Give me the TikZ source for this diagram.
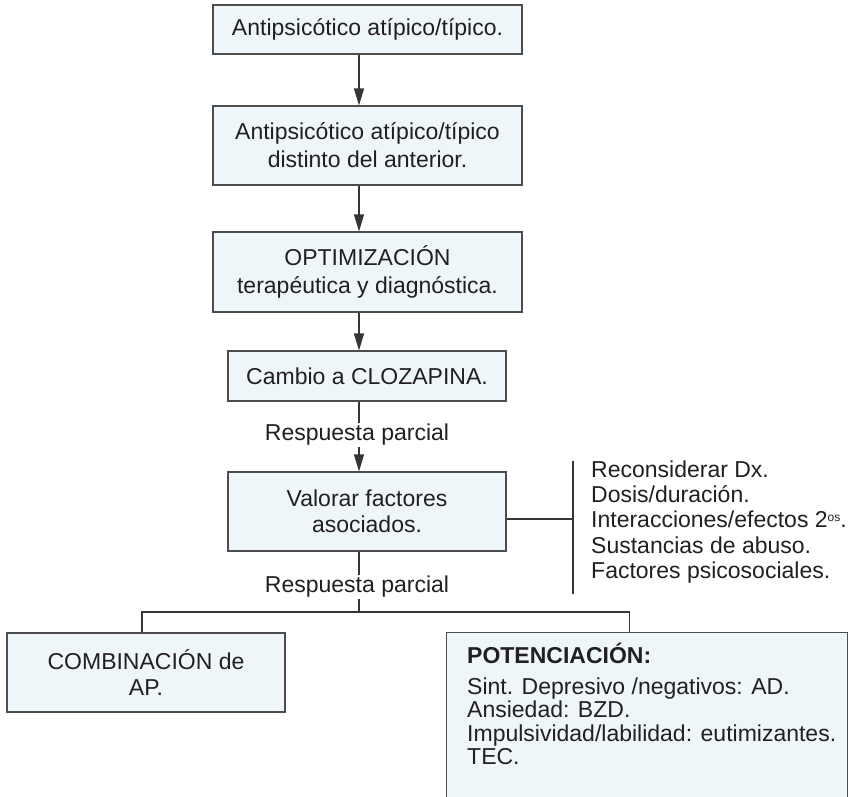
\documentclass[tikz,border=0pt]{standalone}
\usepackage{fontspec}
\setmainfont{Liberation Sans}
\usepackage{tikz}
\usetikzlibrary{arrows.meta, positioning, calc}
\definecolor{boxfill}{HTML}{EEF6FA}
\definecolor{boxline}{HTML}{4D4D4D}
\definecolor{inkgray}{HTML}{231F20}

\begin{document}
\begin{tikzpicture}[x=1pt, y=-1pt,
  stage/.style={draw=boxline, fill=boxfill, line width=1.1pt, inner sep=0pt,
    align=center, text=inkgray, font=\fontsize{23}{28}\selectfont},
  lbl/.style={text=inkgray, inner sep=1pt, font=\fontsize{23}{25.3}\selectfont},
  flow/.style={draw=inkgray!90, line width=1.1pt},
  arr/.style={flow, -{Triangle[length=17pt, width=10pt]}}
]
  \useasboundingbox (0,0) rectangle (853,796);
  \clip (0,0) rectangle (853,796);

  % Main column
  \node[stage, minimum width=309, minimum height=49] (ap1) at (367.5,29.5)
    {Antipsicótico atípico/típico.};
  \node[stage, minimum width=309, minimum height=79] (ap2) at (367.5,145.5)
    {Antipsicótico atípico/típico\\distinto del anterior.};
  \node[stage, minimum width=309, minimum height=80] (optim) at (367.5,272)
    {OPTIMIZACIÓN\\terapéutica y diagnóstica.};
  \node[stage, minimum width=278, minimum height=50] (cloza) at (367,376)
    {Cambio a CLOZAPINA.};
  \node[stage, minimum width=278, minimum height=79, font=\fontsize{23}{26.5}\selectfont]
    (valorar) at (367,511.5) {Valorar factores\\asociados.};
  \coordinate (axis) at (359,0);

  % Arrows
  \draw[arr] (ap1.south -| axis) -- (ap2.north -| axis);
  \draw[arr] (ap2.south -| axis) -- (optim.north -| axis);
  \draw[arr] (optim.south -| axis) -- (cloza.north -| axis);
  \draw[arr] (cloza.south -| axis) -- (valorar.north -| axis);
  \node[lbl, fill=white] (resp1) at (357,435) {Respuesta parcial};

  % Associated factors
  \coordinate (brtop) at (573,461);
  \coordinate (brbot) at (573,594);
  \coordinate (brmid) at (573,519);
  \draw[flow] (brtop) -- (brbot);
  \draw[flow] ([yshift=-7.5pt]valorar.east) -- (brmid);
  \node[lbl, align=left, anchor=west, inner sep=0pt] (causas) at (591,522)
    {Reconsiderar Dx.\\Dosis/duración.\\Interacciones/efectos 2\raisebox{6.5pt}{\fontsize{12}{12}\selectfont os}.\\Sustancias de abuso.\\Factores psicosociales.};

  % Split
  \coordinate (split) at (359,612);
  \node[stage, minimum width=278, minimum height=79, font=\fontsize{23}{26}\selectfont]
    (combi) at (146,672.5) {COMBINACIÓN de\\AP.};
  \node[stage, anchor=north west, minimum width=401, minimum height=190] (poten) at (446,632) {};
  \node[lbl, align=left, anchor=north west, inner sep=0pt, font=\fontsize{23}{23.6}\selectfont]
    (potentxt) at (467,643)
    {\textbf{POTENCIACIÓN:}\\[7pt]Sint. Depresivo /negativos: AD.\\Ansiedad: BZD.\\Impulsividad/labilidad: eutimizantes.\\TEC.};
  \draw[flow] (valorar.south -| axis) -- (split);
  \draw[flow] (split) -| ([xshift=-4pt]combi.north);
  \draw[flow] (split) -| ([xshift=-17.5pt]poten.north);
  \node[lbl, fill=white] (resp2) at (357,587) {Respuesta parcial};
\end{tikzpicture}
\end{document}
